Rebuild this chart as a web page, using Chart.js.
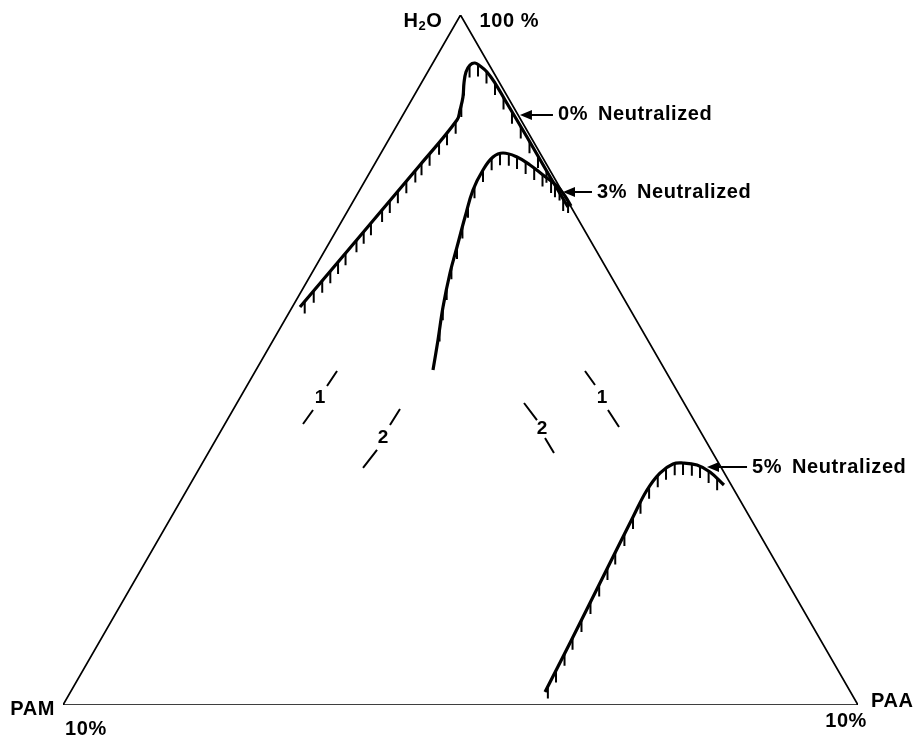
<!DOCTYPE html>
<html>
<head>
<meta charset="utf-8">
<script src="https://cdn.jsdelivr.net/npm/chart.js@4.4.1/dist/chart.umd.min.js"></script>
<style>
  html, body { margin: 0; padding: 0; background: #fff; }
  canvas { display: block; }
</style>
</head>
<body>
<canvas id="grafico" width="920" height="739"></canvas>
<script>
// plot frame: x 0 = PAM corner, 100 = PAA corner; y 0 = base, 100 = H2O apex
const vertices = [[0, 0], [50, 100], [100, 0], [0, 0]];

const curvePercents = ['0%', '3%', '5%'];
const curveWord = 'Neutralized';

const curve0 = [
  [29.81, 57.68], [44.91, 78.26], [49.56, 84.78], [49.94, 86.23], [50.31, 88.12],
  [50.44, 90.14], [50.69, 91.74], [51.19, 92.75], [51.82, 93.04], [52.45, 92.61],
  [53.33, 91.74], [54.34, 90.14], [55.60, 87.68], [58.36, 82.32], [61.13, 76.81],
  [63.52, 72.17]
];
const curve3 = [
  [46.54, 48.55], [47.17, 52.90], [47.80, 57.68], [48.68, 62.61], [49.56, 66.38],
  [50.57, 70.72], [51.57, 74.64], [52.83, 77.54], [54.09, 79.42], [55.35, 80.00],
  [57.11, 79.42], [58.74, 78.26], [60.38, 76.81], [62.14, 75.22], [63.14, 73.77],
  [63.90, 72.32]
];
const curve5 = [
  [60.63, 1.88], [63.77, 8.99], [67.92, 18.55], [71.70, 27.25], [73.46, 31.16],
  [75.09, 33.62], [76.73, 34.93], [77.99, 35.07], [79.75, 34.78], [81.38, 33.77],
  [83.14, 31.88]
];

// arrow tips pointing at each curve
const arrowTips = [[57.48, 85.51], [62.89, 74.35], [81.01, 34.49]];

// short tie-line marks with their numbers
const markLabels = ['1', '2', '2', '1'];
const markLabelPos = [[32.33, 44.49], [40.25, 38.70], [60.25, 40.00], [67.80, 44.49]];
const markSegments = [
  [[34.47, 48.41], [33.21, 46.23], [31.45, 42.75], [30.19, 40.72]],
  [[42.39, 42.90], [41.13, 40.58], [39.50, 36.96], [37.74, 34.35]],
  [[57.99, 43.77], [59.62, 41.30], [60.63, 38.70], [61.76, 36.52]],
  [[65.66, 48.41], [66.92, 46.38], [68.55, 42.75], [69.94, 40.29]]
];

const toXY = arr => arr.map(p => ({ x: p[0], y: p[1] }));
const fonte = 'bold 20px "Liberation Sans", Arial, sans-serif';

const datasets = [{
  label: 'triangulo',
  data: toXY(vertices),
  showLine: true,
  borderColor: '#000',
  borderWidth: 1.7,
  borderJoinStyle: 'miter',
  pointRadius: 0,
  tension: 0
}];

const inicioHachura = [2, 16, 2];
[curve0, curve3, curve5].forEach((c, i) => {
  datasets.push({
    label: curvePercents[i] + ' ' + curveWord,
    data: toXY(c),
    showLine: true,
    borderColor: '#000',
    borderWidth: 3.2,
    pointRadius: 0,
    tension: 0.4,
    hachura: true,
    hachuraInicio: inicioHachura[i]
  });
});

markSegments.forEach(seg => {
  datasets.push({
    label: 'marca',
    data: [
      { x: seg[0][0], y: seg[0][1] }, { x: seg[1][0], y: seg[1][1] },
      { x: null, y: null },
      { x: seg[2][0], y: seg[2][1] }, { x: seg[3][0], y: seg[3][1] }
    ],
    showLine: true,
    spanGaps: false,
    borderColor: '#000',
    borderWidth: 2,
    pointRadius: 0,
    tension: 0
  });
});

// hatch ticks, arrows and all the text
const desenhoExtra = {
  id: 'desenhoExtra',
  afterDatasetsDraw(chart) {
    const ctx = chart.ctx;
    const sx = chart.scales.x, sy = chart.scales.y;
    ctx.save();
    ctx.strokeStyle = '#000';
    ctx.fillStyle = '#000';

    // hachuras
    chart.data.datasets.forEach((ds, i) => {
      if (!ds.hachura) return;
      const pts = chart.getDatasetMeta(i).data;
      const amostra = [];
      for (let k = 0; k < pts.length - 1; k++) {
        const a = pts[k], b = pts[k + 1];
        const c1x = a.cp2x ?? a.x, c1y = a.cp2y ?? a.y;
        const c2x = b.cp1x ?? b.x, c2y = b.cp1y ?? b.y;
        const N = 30;
        for (let j = 0; j < N; j++) {
          const t = j / N, u = 1 - t;
          amostra.push({
            x: u * u * u * a.x + 3 * u * u * t * c1x + 3 * u * t * t * c2x + t * t * t * b.x,
            y: u * u * u * a.y + 3 * u * u * t * c1y + 3 * u * t * t * c2y + t * t * t * b.y
          });
        }
      }
      const ult = pts[pts.length - 1];
      amostra.push({ x: ult.x, y: ult.y });

      ctx.lineWidth = 2;
      ctx.beginPath();
      let acc = 8.5 - ds.hachuraInicio;
      for (let k = 1; k < amostra.length; k++) {
        const dx = amostra[k].x - amostra[k - 1].x;
        const dy = amostra[k].y - amostra[k - 1].y;
        const arco = Math.hypot(dx, dy);
        acc += Math.max(Math.abs(dx), arco / 2.5);
        if (acc >= 8.5) {
          acc -= 8.5;
          ctx.moveTo(amostra[k].x, amostra[k].y);
          ctx.lineTo(amostra[k].x, amostra[k].y + 12);
        }
      }
      ctx.stroke();
    });

    // setas e nomes das curvas
    const setas = [[33, 5], [29, 5], [40, 5]];
    ctx.font = fonte;
    ctx.letterSpacing = '0.6px';
    ctx.textBaseline = 'middle';
    ctx.textAlign = 'left';
    arrowTips.forEach((p, i) => {
      const x = sx.getPixelForValue(p[0]);
      const y = sy.getPixelForValue(p[1]);
      const cauda = x + setas[i][0];
      ctx.lineWidth = 2;
      ctx.beginPath();
      ctx.moveTo(x + 8, y);
      ctx.lineTo(cauda, y);
      ctx.stroke();
      ctx.beginPath();
      ctx.moveTo(x, y);
      ctx.lineTo(x + 12, y - 5);
      ctx.lineTo(x + 12, y + 5);
      ctx.closePath();
      ctx.fill();
      const xt = cauda + setas[i][1];
      ctx.fillText(curvePercents[i], xt, y);
      ctx.fillText(curveWord, xt + 40, y);
    });

    // numeros das marcas
    ctx.font = 'bold 19px "Liberation Sans", Arial, sans-serif';
    ctx.letterSpacing = '0px';
    ctx.textAlign = 'center';
    markLabels.forEach((t, i) => {
      ctx.fillText(t, sx.getPixelForValue(markLabelPos[i][0]), sy.getPixelForValue(markLabelPos[i][1]));
    });

    // vertices
    const pam = { x: sx.getPixelForValue(0), y: sy.getPixelForValue(0) };
    const topo = { x: sx.getPixelForValue(50), y: sy.getPixelForValue(100) };
    const paa = { x: sx.getPixelForValue(100), y: sy.getPixelForValue(0) };

    ctx.font = fonte;
    ctx.letterSpacing = '0.6px';
    ctx.textAlign = 'left';
    // H2O com subscrito
    const fonteSub = 'bold 13px "Liberation Sans", Arial, sans-serif';
    const wH = ctx.measureText('H').width;
    const wO = ctx.measureText('O').width;
    ctx.font = fonteSub;
    const w2 = ctx.measureText('2').width;
    const xi = topo.x - 18 - (wH + w2 + wO);
    ctx.font = fonte;
    ctx.fillText('H', xi, topo.y + 6);
    ctx.font = fonteSub;
    ctx.fillText('2', xi + wH, topo.y + 11);
    ctx.font = fonte;
    ctx.fillText('O', xi + wH + w2, topo.y + 6);
    ctx.fillText('100 %', topo.x + 19, topo.y + 6);

    ctx.textAlign = 'right';
    ctx.fillText('PAM', pam.x - 8, pam.y + 4);
    ctx.textAlign = 'left';
    ctx.fillText('10%', pam.x + 2, pam.y + 24);
    ctx.fillText('PAA', paa.x + 13, paa.y - 4);
    ctx.textAlign = 'right';
    ctx.fillText('10%', paa.x + 9, paa.y + 16);
    ctx.restore();
  }
};

new Chart(document.getElementById('grafico'), {
  type: 'scatter',
  data: { datasets: datasets },
  options: {
    responsive: false,
    animation: false,
    layout: { padding: { left: 63, right: 62, top: 15, bottom: 34 } },
    plugins: {
      legend: { display: false },
      tooltip: { enabled: false }
    },
    scales: {
      x: { type: 'linear', min: 0, max: 100, display: false },
      y: { type: 'linear', min: 0, max: 100, display: false }
    }
  },
  plugins: [desenhoExtra]
});
</script>
</body>
</html>
